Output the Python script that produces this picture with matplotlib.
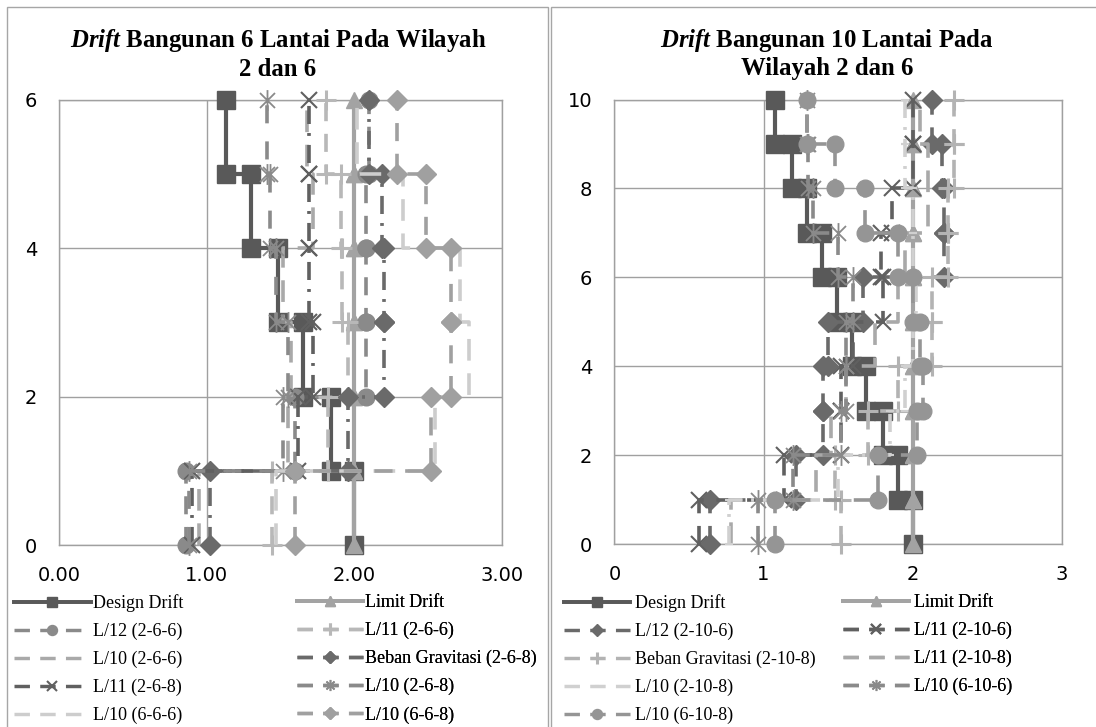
import numpy as np
import matplotlib
matplotlib.use("Agg")
import matplotlib.pyplot as plt
from matplotlib.lines import Line2D
from matplotlib.path import Path
from matplotlib.patches import Rectangle

# ---------------- data (storey drift values, storey 1 at bottom) ----------------
title_left = [r"$\mathit{Drift}$ Bangunan 6 Lantai Pada Wilayah", "2 dan 6"]
title_right = [r"$\mathit{Drift}$ Bangunan 10 Lantai Pada", "Wilayah 2 dan 6"]

xticks_left = [0, 1, 2, 3]
xticklabels_left = ["0.00", "1.00", "2.00", "3.00"]
yticks_left = [0, 2, 4, 6]
xticks_right = [0, 1, 2, 3]
xticklabels_right = ["0", "1", "2", "3"]
yticks_right = [0, 2, 4, 6, 8, 10]

# 6-storey building
names_6 = ["Design Drift", "Limit Drift", "L/12 (2-6-6)", "L/11 (2-6-6)",
           "L/10 (2-6-6)", "Beban Gravitasi (2-6-8)", "L/11 (2-6-8)",
           "L/10 (2-6-8)", "L/10 (6-6-6)", "L/10 (6-6-8)"]
design_6 = [2.00, 1.84, 1.655, 1.48, 1.30, 1.13]
limit_6 = [2.00, 2.00, 2.00, 2.00, 2.00, 2.00]
l12_266 = [0.86, 1.60, 2.08, 2.08, 2.08, 2.10]
l11_266 = [1.44, 1.82, 1.96, 1.92, 1.91, 1.81]
l10_266 = [0.95, 1.55, 1.57, 1.52, 1.72, 1.68]
grav_268 = [1.02, 1.96, 2.20, 2.20, 2.19, 2.10]
l11_268 = [0.90, 1.62, 1.72, 1.69, 1.69, 1.69]
l10_268 = [0.88, 1.52, 1.55, 1.47, 1.43, 1.41]
l10_666 = [1.47, 2.55, 2.78, 2.72, 2.33, 2.02]
l10_668 = [1.60, 2.52, 2.66, 2.66, 2.49, 2.29]
series_6 = [design_6, limit_6, l12_266, l11_266, l10_266, grav_268,
            l11_268, l10_268, l10_666, l10_668]

# 10-storey building
names_10 = ["Design Drift", "Limit Drift", "L/12 (2-10-6)", "L/11 (2-10-6)",
            "Beban Gravitasi (2-10-8)", "L/11 (2-10-8)", "L/10 (2-10-8)",
            "L/10 (6-10-6)", "L/10 (6-10-8)"]
design_10 = [2.00, 1.90, 1.80, 1.69, 1.59, 1.49, 1.39, 1.29, 1.19, 1.08]
limit_10 = [2.00, 2.00, 2.00, 2.00, 2.00, 2.00, 2.00, 2.00, 2.00, 2.00]
l12_2106 = [0.64, 1.22, 1.40, 1.40, 1.43, 1.67, 2.21, 2.21, 2.20, 2.13]
l11_2106 = [0.57, 1.14, 1.52, 1.52, 1.60, 1.80, 1.79, 1.86, 2.00, 2.00]
grav_2108 = [1.52, 1.48, 1.70, 1.90, 2.13, 2.13, 2.24, 2.24, 2.28, 2.28]
l11_2108 = [0.78, 1.35, 1.45, 1.55, 1.75, 1.90, 1.95, 2.10, 2.10, 2.05]
l10_2108 = [0.77, 1.50, 1.85, 1.95, 2.00, 2.02, 2.00, 2.00, 1.95, 1.95]
l10_6106 = [0.96, 1.20, 1.52, 1.55, 1.55, 1.60, 1.50, 1.33, 1.30, 1.29]
l10_6108 = [1.08, 1.77, 2.03, 2.07, 2.05, 2.00, 1.90, 1.68, 1.48, 1.29]
series_10 = [design_10, limit_10, l12_2106, l11_2106, grav_2108, l11_2108,
             l10_2108, l10_6106, l10_6108]

# ---------------- styles ----------------
STAR = Path([(0, -1), (0, 1), (-0.72, -0.72), (0.72, 0.72), (-0.72, 0.72), (0.72, -0.72)],
            [Path.MOVETO, Path.LINETO] * 3)

def sty(color, ls, marker=None, ms=11, mew=1.0, lw=2.6):
    return dict(color=color, ls=ls, marker=marker, ms=ms, mew=mew, lw=lw)

DASH = (0, (5, 3.5))
LDASH = (0, (6, 3.5))
DDOT = (0, (5, 2.5, 0.8, 2.5))
DESIGN = sty("#595959", "-", "s", 13, 1, 3.0)
LIMIT = sty("#a3a3a3", "-", "^", 12, 1, 3.0)

styles_6 = [
    DESIGN, LIMIT,
    sty("#8a8a8a", DASH, "o", 12),
    sty("#b8b8b8", DASH, "+", 15, 2.2),
    sty("#a9a9a9", LDASH, None),
    sty("#6a6a6a", DDOT, "D", 10),
    sty("#606060", DDOT, "x", 12, 1.5),
    sty("#8a8a8a", (0, (5, 5)), STAR, 15, 1.3),
    sty("#cdcdcd", LDASH, None),
    sty("#a0a0a0", DASH, "D", 10),
]
styles_10 = [
    DESIGN, LIMIT,
    sty("#6a6a6a", DASH, "D", 10),
    sty("#606060", DASH, "x", 12, 1.5),
    sty("#b3b3b3", DASH, "+", 15, 2.2),
    sty("#a9a9a9", LDASH, None),
    sty("#d0d0d0", DDOT, "_", 6, 1.5),
    sty("#8a8a8a", DASH, STAR, 15, 1.3),
    sty("#959595", DASH, "o", 12),
]

def step_xy(vals):
    v = np.asarray(vals, float)
    x = np.repeat(v, 2)
    y = np.repeat(np.arange(len(v) + 1), 2)[1:-1]
    return x, y

W, H = 1096, 727
fig = plt.figure(figsize=(W / 100, H / 100), dpi=100)
plt.rcParams["mathtext.fontset"] = "custom"
plt.rcParams["mathtext.it"] = "Liberation Serif:italic:bold"
plt.rcParams["mathtext.rm"] = "Liberation Serif:bold"

def px_axes(x0, y0, x1, y1):
    return fig.add_axes([x0 / W, 1 - y1 / H, (x1 - x0) / W, (y1 - y0) / H])

GRID = "#a0a0a0"

def draw_chart(ax, series, styles, nst, xticks, xtl, yticks):
    for vals, s in zip(series, styles):
        x, y = step_xy(vals)
        ax.plot(x, y, color=s["color"], ls=s["ls"], lw=s["lw"], marker=s["marker"],
                ms=s["ms"], mew=s["mew"], mec=s["color"], mfc=s["color"],
                clip_on=False, zorder=3)
    ax.set_xlim(0, 3)
    ax.set_ylim(0, nst)
    ax.set_xticks(xticks)
    ax.set_xticklabels(xtl)
    ax.set_yticks(yticks)
    ax.grid(True, color=GRID, lw=1.0)
    ax.set_axisbelow(True)
    for sp in ax.spines.values():
        sp.set_color(GRID)
        sp.set_linewidth(1.0)
    ax.tick_params(length=0, labelsize=14, colors="#000000")
    ax.tick_params(axis="x", pad=15)
    ax.tick_params(axis="y", pad=16)
    for lab in ax.get_xticklabels() + ax.get_yticklabels():
        lab.set_family("DejaVu Sans")

axL = px_axes(59.4, 99.5, 501.6, 545.3)
draw_chart(axL, series_6, styles_6, 6, xticks_left, xticklabels_left, yticks_left)
axR = px_axes(614.4, 99.5, 1061.8, 544.2)
draw_chart(axR, series_10, styles_10, 10, xticks_right, xticklabels_right, yticks_right)

# titles (centred on chart areas)
for cx, lines in ((278, title_left), (827, title_right)):
    for yy, t in zip((40, 69), lines):
        fig.text(cx / W, 1 - yy / H, t, ha="center", va="center",
                 family="Liberation Serif", weight="bold", fontsize=17.8)

# chart-area borders
fig.add_artist(Rectangle((7 / W, -0.01), (548 - 7) / W, 1 - 7 / H + 0.01,
                         transform=fig.transFigure, fill=False, ec="#a6a6a6", lw=1))
fig.add_artist(Rectangle((551 / W, -0.01), (W + 5 - 551) / W, 1 - 7 / H + 0.01,
                         transform=fig.transFigure, fill=False, ec="#a6a6a6", lw=1))

# legends
def handle(s, label):
    ls = s["ls"] if s["ls"] == "-" else (0, (4.5, 3))
    return Line2D([], [], color=s["color"], ls=ls, lw=s["lw"] * 0.95,
                  marker=s["marker"], ms=min(s["ms"] * 0.6, 8), mew=s["mew"],
                  mec=s["color"], mfc=s["color"], label=label)

def legend_col(ax, idxs, names, styles, x_px, hl, htp):
    hs = [handle(styles[i], names[i]) for i in idxs]
    leg = ax.legend(handles=hs, loc="upper left",
                    bbox_to_anchor=(x_px / W, 1 - 594 / H),
                    bbox_transform=fig.transFigure, frameon=False,
                    borderpad=0, borderaxespad=0, handlelength=hl,
                    handletextpad=htp, labelspacing=0.6, numpoints=1,
                    prop=dict(family="Liberation Serif", size=13))
    ax.add_artist(leg)

legend_col(axL, [0, 2, 4, 6, 8], names_6, styles_6, 14, 4.25, 0.12)
legend_col(axL, [1, 3, 5, 7, 9], names_6, styles_6, 297, 3.65, 0.12)
legend_col(axR, [0, 2, 4, 6, 8], names_10, styles_10, 564, 3.65, 0.28)
legend_col(axR, [1, 3, 5, 7], names_10, styles_10, 843, 3.65, 0.28)

fig.savefig("out.png", dpi=100)
